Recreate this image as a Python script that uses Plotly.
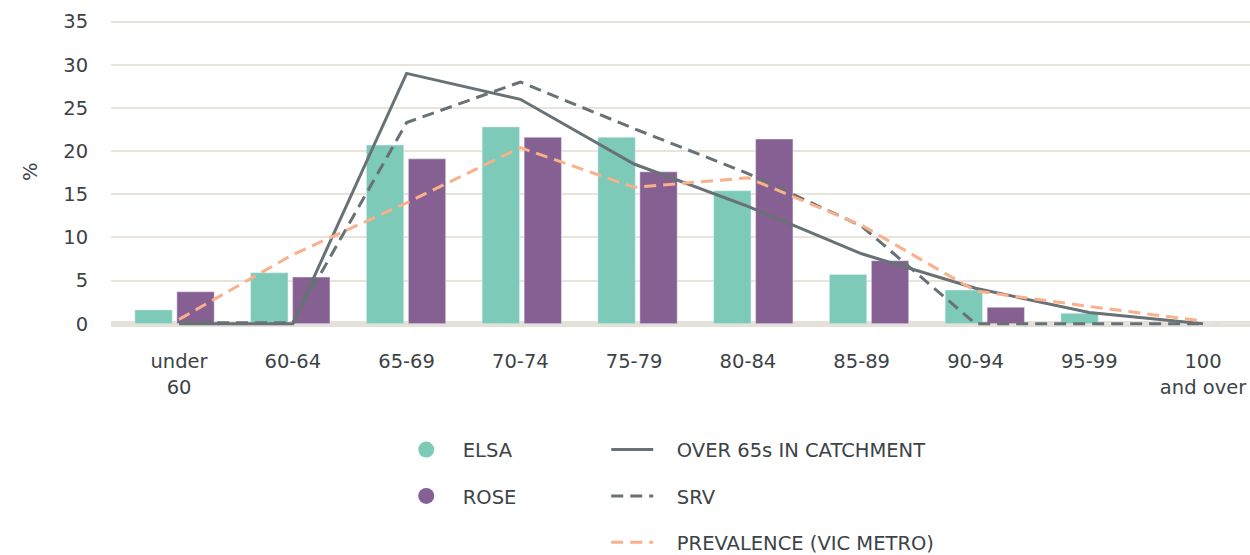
import plotly.graph_objects as go

# Age bands and their axis labels
age_groups = ["under 60", "60-64", "65-69", "70-74", "75-79",
              "80-84", "85-89", "90-94", "95-99", "100 and over"]
tick_labels = ["under<br>60", "60-64", "65-69", "70-74", "75-79",
               "80-84", "85-89", "90-94", "95-99", "100<br>and over"]

# Share of participants in each age band (%)
elsa = [1.6, 5.9, 20.7, 22.8, 21.6, 15.4, 5.7, 3.9, 1.2, 0]
rose = [3.7, 5.4, 19.1, 21.6, 17.6, 21.4, 7.3, 1.9, 0, 0]

# Reference populations (%)
over65_catchment = [0, 0, 29.0, 26.0, 18.5, 13.6, 8.1, 4.1, 1.3, 0]
srv = [0.1, 0.1, 23.3, 28.0, 22.6, 17.4, 11.3, 0, 0, 0]
prevalence = [0.5, 8.0, 14.0, 20.4, 15.8, 16.9, 11.4, 3.8, 2.0, 0.3]

TEAL = "#7dcab8"
PURPLE = "#866092"
GREY = "#687175"
PEACH = "#f9b08b"
TEXT = "#3c4347"
GRID = "#e8e4dc"
FONT = "DejaVu Sans"
FS = 19.5
PAD = "\u00a0" * 3  # extra room between line swatch and its label

fig = go.Figure()

# Bars (drawn on the category axis)
fig.add_trace(go.Bar(x=age_groups, y=elsa, name="ELSA", marker_color=TEAL,
                     showlegend=False, xaxis="x", yaxis="y"))
fig.add_trace(go.Bar(x=age_groups, y=rose, name="ROSE", marker_color=PURPLE,
                     showlegend=False, xaxis="x", yaxis="y"))

idx = list(range(len(age_groups)))

# Comparison lines (drawn on the labelled axis)
fig.add_trace(go.Scatter(x=idx, y=over65_catchment, mode="lines",
                         name=PAD + "OVER 65s IN CATCHMENT",
                         line=dict(color=GREY, width=3),
                         xaxis="x2", yaxis="y", legend="legend2",
                         legendgroup="g1"))
fig.add_trace(go.Scatter(x=idx, y=srv, mode="lines", name=PAD + "SRV",
                         line=dict(color=GREY, width=3, dash="12px,7px"),
                         xaxis="x2", yaxis="y", legend="legend2",
                         legendgroup="g2"))
fig.add_trace(go.Scatter(x=idx, y=prevalence, mode="lines",
                         name=PAD + "PREVALENCE (VIC METRO)",
                         line=dict(color=PEACH, width=3, dash="12px,7px"),
                         xaxis="x2", yaxis="y", legend="legend2",
                         legendgroup="g3"))

# Round legend swatches for the bar series
fig.add_trace(go.Scatter(x=[None], y=[None], mode="markers", name="ELSA",
                         marker=dict(color=TEAL, size=16, symbol="circle"),
                         legend="legend", legendgroup="b1"))
fig.add_trace(go.Scatter(x=[None], y=[None], mode="markers", name="ROSE",
                         marker=dict(color=PURPLE, size=16, symbol="circle"),
                         legend="legend", legendgroup="b2"))

fig.update_layout(
    width=1250, height=555,
    margin=dict(l=111, r=0, t=13, b=227, autoexpand=False),
    paper_bgcolor="white", plot_bgcolor="white",
    font=dict(family=FONT, size=FS, color=TEXT),
    barmode="group", bargap=0.275, bargroupgap=0.11,
    xaxis=dict(type="category", range=[-0.549, 9.291], showticklabels=False,
               showgrid=False, zeroline=False, showline=False, ticks=""),
    xaxis2=dict(overlaying="x", side="bottom", range=[-0.598, 9.413],
                tickmode="array", tickvals=idx, ticktext=tick_labels,
                showgrid=False, zeroline=False, showline=False,
                ticks="outside", ticklen=16, tickcolor="rgba(0,0,0,0)",
                tickangle=0, ticklabeloverflow="allow",
                tickfont=dict(size=FS, color=TEXT)),
    yaxis=dict(range=[-0.5, 36], tickvals=[0, 5, 10, 15, 20, 25, 30, 35],
               showgrid=True, gridcolor=GRID, gridwidth=2,
               zeroline=True, zerolinecolor="#e6e1d8", zerolinewidth=6,
               showline=False, ticks="outside", ticklen=18,
               tickcolor="rgba(0,0,0,0)", tickfont=dict(size=FS, color=TEXT)),
    annotations=[dict(text="%", textangle=-90, xref="paper", yref="paper",
                      x=-0.0711, y=0.495, xanchor="center", yanchor="middle",
                      showarrow=False, font=dict(size=FS, color=TEXT))],
    legend=dict(xref="container", yref="container", x=0.3118, y=0.2245,
                xanchor="left", yanchor="top", orientation="v",
                tracegroupgap=18, itemwidth=63, bgcolor="rgba(0,0,0,0)",
                font=dict(size=FS, color=TEXT)),
    legend2=dict(xref="container", yref="container", x=0.485, y=0.2245,
                 xanchor="left", yanchor="top", orientation="v",
                 tracegroupgap=18, itemwidth=42, bgcolor="rgba(0,0,0,0)",
                 font=dict(size=FS, color=TEXT)),
)

fig.write_html("out.html")
